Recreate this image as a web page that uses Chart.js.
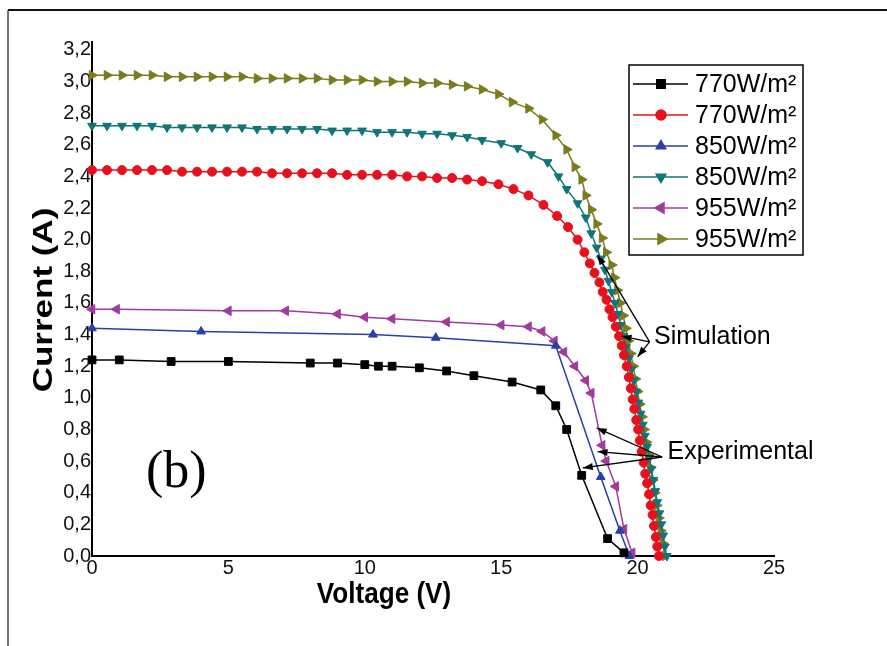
<!DOCTYPE html>
<html>
<head>
<meta charset="utf-8">
<script src="https://cdn.jsdelivr.net/npm/chart.js@4.4.1/dist/chart.umd.min.js"></script>
<style>
  html, body { margin: 0; padding: 0; background: #fff; }
  canvas { display: block; }
</style>
</head>
<body>
<canvas id="ivChart" width="887" height="646"></canvas>
<script>
// ---- axis ticks ----
const X_TICKS = [0, 5, 10, 15, 20, 25];
const Y_TICKS = [0, 0.2, 0.4, 0.6, 0.8, 1.0, 1.2, 1.4, 1.6, 1.8, 2.0, 2.2, 2.4, 2.6, 2.8, 3.0, 3.2];
const Y_TICK_LABELS = ['0,0', '0,2', '0,4', '0,6', '0,8', '1,0', '1,2', '1,4', '1,6', '1,8',
                       '2,0', '2,2', '2,4', '2,6', '2,8', '3,0', '3,2'];

const SERIES_LABELS = ['770W/m²', '770W/m²', '850W/m²', '850W/m²', '955W/m²', '955W/m²'];

// ---- experimental curves (voltage V, current A) ----
const V_770_EXP = [0, 1.0, 2.9, 5.0, 8.0, 9.0, 10.0, 10.5, 11.0, 12.0, 13.0, 14.0, 15.4, 16.45, 17.0, 17.4, 17.95, 18.9, 19.5];
const I_770_EXP = [1.24, 1.24, 1.23, 1.23, 1.22, 1.22, 1.21, 1.20, 1.20, 1.19, 1.17, 1.14, 1.10, 1.05, 0.95, 0.80, 0.51, 0.11, 0.02];

const V_850_EXP = [0, 4.0, 10.3, 12.6, 17.0, 18.65, 19.35, 19.7];
const I_850_EXP = [1.44, 1.42, 1.40, 1.38, 1.33, 0.50, 0.16, 0.0];

const V_955_EXP = [0, 0.9, 5.0, 7.1, 9.0, 10.0, 11.0, 13.0, 15.0, 16.0, 16.5, 16.95, 17.3, 17.7, 18.1, 18.3, 18.7, 18.85, 19.2, 19.5, 19.8];
const I_955_EXP = [1.56, 1.56, 1.55, 1.55, 1.53, 1.51, 1.50, 1.48, 1.46, 1.45, 1.42, 1.36, 1.29, 1.20, 1.11, 1.03, 0.70, 0.60, 0.44, 0.17, 0.02];

// ---- simulated curves ----
const V_SIM_FLAT = [0, 0.55, 1.1, 1.65, 2.2, 2.75, 3.3, 3.85, 4.4, 4.95, 5.5, 6.05, 6.6, 7.15, 7.7, 8.25, 8.8,
                    9.35, 9.9, 10.45, 11.0, 11.55, 12.1, 12.65, 13.2, 13.75, 14.3];

const V_770_SIM = V_SIM_FLAT.concat([14.9, 15.45, 16.0, 16.55, 17.05, 17.45, 17.8, 18.05, 18.25, 18.42,
  18.6, 18.72, 18.86, 18.97, 19.08, 19.2, 19.32, 19.42, 19.5, 19.6,
  19.68, 19.75, 19.82, 19.88, 19.95, 20.02, 20.08, 20.15, 20.22, 20.28,
  20.35, 20.42, 20.48, 20.55, 20.6, 20.67, 20.72, 20.78]);
const I_770_SIM = [2.44, 2.44, 2.44, 2.44, 2.44, 2.44, 2.43, 2.43, 2.43, 2.43, 2.43, 2.43, 2.42, 2.42, 2.42,
  2.42, 2.42, 2.41, 2.41, 2.41, 2.41, 2.40, 2.40, 2.39, 2.39, 2.38, 2.37,
  2.35, 2.32, 2.28, 2.22, 2.15, 2.08, 2.00, 1.92, 1.85, 1.79,
  1.73, 1.67, 1.62, 1.56, 1.51, 1.45, 1.39, 1.33, 1.27, 1.20,
  1.13, 1.06, 0.99, 0.93, 0.86, 0.80, 0.73, 0.66, 0.59, 0.52,
  0.46, 0.39, 0.32, 0.26, 0.19, 0.12, 0.06, 0.0];

const V_850_SIM = V_SIM_FLAT.concat([15.0, 15.6, 16.1, 16.7, 17.1, 17.4, 17.8, 18.1, 18.3, 18.5,
  18.65, 18.8, 18.93, 19.05, 19.17, 19.28, 19.38, 19.48, 19.58, 19.68,
  19.77, 19.86, 19.95, 20.03, 20.11, 20.19, 20.27, 20.35, 20.43, 20.5,
  20.58, 20.65, 20.72, 20.8, 20.87, 20.94, 21.0, 21.07]);
const I_850_SIM = [2.72, 2.72, 2.72, 2.72, 2.72, 2.71, 2.71, 2.71, 2.71, 2.71, 2.71, 2.70, 2.70, 2.70, 2.70,
  2.70, 2.69, 2.69, 2.69, 2.68, 2.68, 2.68, 2.67, 2.67, 2.66, 2.65, 2.63,
  2.61, 2.58, 2.54, 2.49, 2.40, 2.32, 2.23, 2.14, 2.04, 1.95,
  1.88, 1.81, 1.74, 1.67, 1.60, 1.53, 1.46, 1.39, 1.32, 1.25,
  1.18, 1.11, 1.04, 0.97, 0.90, 0.83, 0.76, 0.69, 0.62, 0.55,
  0.48, 0.41, 0.34, 0.27, 0.20, 0.13, 0.06, 0.0];

const V_955_SIM = V_SIM_FLAT.concat([14.9, 15.4, 16.0, 16.5, 17.0, 17.4, 17.7, 17.95, 18.1, 18.3,
  18.5, 18.7, 18.85, 19.05, 19.15, 19.26, 19.37, 19.47, 19.57, 19.66,
  19.75, 19.84, 19.92, 20.0, 20.08, 20.16, 20.24, 20.32, 20.4, 20.48,
  20.55, 20.63, 20.7, 20.78, 20.85, 20.92, 21.0]);
const I_955_SIM = [3.04, 3.04, 3.04, 3.04, 3.04, 3.03, 3.03, 3.03, 3.03, 3.03, 3.03, 3.02, 3.02, 3.02, 3.02,
  3.02, 3.01, 3.01, 3.01, 3.00, 3.00, 3.00, 2.99, 2.99, 2.98, 2.97, 2.95,
  2.92, 2.87, 2.83, 2.76, 2.66, 2.57, 2.46, 2.38, 2.28, 2.19,
  2.10, 2.01, 1.92, 1.84, 1.76, 1.68, 1.60, 1.52, 1.44, 1.36,
  1.28, 1.20, 1.12, 1.04, 0.96, 0.88, 0.80, 0.72, 0.64, 0.56,
  0.48, 0.40, 0.32, 0.24, 0.16, 0.08, 0.0];

// annotation arrows, in data units (V, A)
const SIM_NOTE = { text: 'Simulation', at: [20.6, 1.385], from: [20.44, 1.354],
                   to: [[18.53, 1.904], [19.41, 1.39], [20.0, 1.26]] };
const EXP_NOTE = { text: 'Experimental', at: [21.1, 0.66], from: [20.9, 0.626],
                   to: [[18.5, 0.81], [18.53, 0.66], [17.99, 0.557]] };
const PANEL_TAG = { text: '(b)', at: [1.98, 0.525] };

const FONT = "'Liberation Sans', Arial, sans-serif";

function zip(v, i) {
    return v.map((x, k) => ({ x: x, y: i[k] }));
}

function series(label, v, i, color, style, rot, r) {
    return {
        label: label,
        data: zip(v, i),
        borderColor: color,
        backgroundColor: color,
        borderWidth: 1.5,
        pointStyle: style,
        rotation: rot,
        pointRadius: r,
        pointBorderWidth: 1,
        pointBackgroundColor: color,
        pointBorderColor: color,
        tension: 0,
        clip: false
    };
}

function arrow(ctx, x0, y0, x1, y1) {
    ctx.beginPath();
    ctx.moveTo(x0, y0);
    ctx.lineTo(x1, y1);
    ctx.stroke();
    const a = Math.atan2(y1 - y0, x1 - x0);
    ctx.beginPath();
    ctx.moveTo(x1, y1);
    ctx.lineTo(x1 - 10 * Math.cos(a) + 3.5 * Math.sin(a), y1 - 10 * Math.sin(a) - 3.5 * Math.cos(a));
    ctx.lineTo(x1 - 10 * Math.cos(a) - 3.5 * Math.sin(a), y1 - 10 * Math.sin(a) + 3.5 * Math.cos(a));
    ctx.closePath();
    ctx.fill();
}

// frame, titles, notes and the boxed legend
const extras = {
    id: 'extras',
    beforeDraw(chart) {
        const ctx = chart.ctx;
        ctx.save();
        ctx.fillStyle = '#fff';
        ctx.fillRect(0, 0, chart.width, chart.height);
        ctx.strokeStyle = '#777';
        ctx.lineWidth = 2;
        ctx.beginPath(); ctx.moveTo(8, 10); ctx.lineTo(8, chart.height); ctx.stroke();
        ctx.strokeStyle = '#111';
        ctx.beginPath(); ctx.moveTo(8, 10); ctx.lineTo(chart.width, 10); ctx.stroke();
        ctx.restore();
    },
    afterDraw(chart) {
        const ctx = chart.ctx, xs = chart.scales.x, ys = chart.scales.y;
        const px = p => [xs.getPixelForValue(p[0]), ys.getPixelForValue(p[1])];
        ctx.save();
        ctx.fillStyle = '#000';
        ctx.strokeStyle = '#000';

        // axis titles
        ctx.textAlign = 'center';
        ctx.textBaseline = 'middle';
        ctx.font = 'bold 28px ' + FONT;
        ctx.save();
        ctx.translate(44, 300);
        ctx.rotate(-Math.PI / 2);
        ctx.scale(1.25, 1);
        ctx.fillText('Current (A)', 0, 0);
        ctx.restore();
        ctx.save();
        ctx.font = 'bold 29px ' + FONT;
        ctx.translate(384, 595);
        ctx.scale(0.9, 1);
        ctx.fillText('Voltage (V)', 0, 0);
        ctx.restore();

        // notes with arrows
        ctx.lineWidth = 1.3;
        [SIM_NOTE, EXP_NOTE].forEach(n => {
            const f = px(n.from);
            n.to.forEach(t => { const p = px(t); arrow(ctx, f[0], f[1], p[0], p[1]); });
            const a = px(n.at);
            ctx.font = '25px ' + FONT;
            ctx.textAlign = 'left';
            ctx.fillText(n.text, a[0], a[1]);
        });
        const tag = px(PANEL_TAG.at);
        ctx.font = "52px 'Liberation Serif', 'Times New Roman', serif";
        ctx.textAlign = 'left';
        ctx.fillText(PANEL_TAG.text, tag[0], tag[1]);

        // legend box
        const bx = 629, by = 65, bw = 174, bh = 190, row = 31;
        ctx.fillStyle = '#fff';
        ctx.fillRect(bx, by, bw, bh);
        ctx.lineWidth = 1.5;
        ctx.strokeStyle = '#000';
        ctx.strokeRect(bx, by, bw, bh);
        chart.data.datasets.forEach((ds, k) => {
            const y = by + 19 + k * row;
            ctx.strokeStyle = ds.borderColor;
            ctx.fillStyle = ds.pointBackgroundColor;
            ctx.lineWidth = 1.5;
            ctx.beginPath(); ctx.moveTo(bx + 4, y); ctx.lineTo(bx + 59, y); ctx.stroke();
            Chart.helpers.drawPoint(ctx, {
                pointStyle: ds.pointStyle, rotation: ds.rotation,
                radius: ds.pointRadius + 0.5, borderWidth: 1
            }, bx + 32, y);
            ctx.fillStyle = '#000';
            ctx.font = '25px ' + FONT;
            ctx.textAlign = 'left';
            ctx.fillText(ds.label, bx + 66, y + 1);
        });
        ctx.restore();
    }
};

const ctx = document.getElementById('ivChart').getContext('2d');
new Chart(ctx, {
    type: 'line',
    data: {
        datasets: [
            series(SERIES_LABELS[0], V_770_EXP, I_770_EXP, '#000000', 'rect', 0, 5.5),
            series(SERIES_LABELS[1], V_770_SIM, I_770_SIM, '#e8101c', 'circle', 0, 4.5),
            series(SERIES_LABELS[2], V_850_EXP, I_850_EXP, '#2a3fa8', 'triangle', 0, 5),
            series(SERIES_LABELS[3], V_850_SIM, I_850_SIM, '#0e7676', 'triangle', 180, 5),
            series(SERIES_LABELS[4], V_955_EXP, I_955_EXP, '#a23a9e', 'triangle', 270, 5.5),
            series(SERIES_LABELS[5], V_955_SIM, I_955_SIM, '#7b7b1e', 'triangle', 90, 5.5)
        ]
    },
    options: {
        responsive: false,
        animation: false,
        layout: { padding: { left: 0, top: 42, right: 113, bottom: 0 } },
        plugins: {
            legend: { display: false },
            tooltip: { enabled: false }
        },
        scales: {
            x: {
                type: 'linear',
                min: 0, max: 25,
                afterFit: s => { s.height = 90; },
                afterBuildTicks: s => { s.ticks = X_TICKS.map(v => ({ value: v })); },
                grid: { display: false, drawTicks: false },
                border: { display: true, color: '#000', width: 2 },
                ticks: {
                    padding: 0,
                    color: '#111',
                    font: { family: FONT, size: 20 },
                    maxRotation: 0,
                    callback: v => String(v)
                }
            },
            y: {
                type: 'linear',
                min: 0, max: 3.25,
                afterFit: s => { s.width = 92; },
                afterBuildTicks: s => { s.ticks = Y_TICKS.map(v => ({ value: v })); },
                grid: { display: false, drawTicks: false },
                border: { display: true, color: '#000', width: 2 },
                ticks: {
                    padding: 1,
                    color: '#111',
                    font: { family: FONT, size: 20 },
                    callback: (v, idx) => Y_TICK_LABELS[idx]
                }
            }
        }
    },
    plugins: [extras]
});
</script>
</body>
</html>
